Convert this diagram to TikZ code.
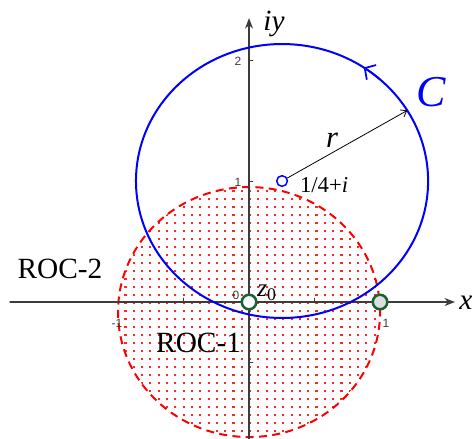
\documentclass[tikz,border=0pt]{standalone}
\usepackage{fontspec}
\setmainfont{Liberation Serif}
\setsansfont{Liberation Sans}
\usetikzlibrary{arrows.meta,calc}
\definecolor{pgreen}{RGB}{25,100,55}
\definecolor{axgray}{RGB}{60,60,60}
\begin{document}
\begin{tikzpicture}[x=98.25pt,y=90.75pt,line join=round,line cap=round,>=Stealth,
	ticklab/.style={font=\sffamily\fontsize{9}{9}\selectfont,text=axgray,inner sep=0pt},
	lab/.style={font=\fontsize{#1}{#1}\selectfont,inner sep=0pt},
	pole/.style={circle,draw=pgreen,line width=1.9pt,minimum size=10.9pt,inner sep=0pt},
	axis/.style={axgray,line width=1.1pt,->}]
				\useasboundingbox (-1.901,-1.132) rectangle (1.725,2.496);
				\coordinate (O) at (0,0);
				\coordinate (E) at (0,-0.083);
				\coordinate (Z) at (0.252,1);
				\coordinate (P) at (1,0);
				\coordinate (Q) at ($(Z)+(31:1.115 and 1.132)$);
				\coordinate (xL) at (-1.824,0);
				\coordinate (xR) at (1.573,0);
				\coordinate (yB) at (0,-1.132);
				\coordinate (yT) at (0,2.347);
				% dotted region
				\begin{scope}
					\clip (E) ellipse (1 and 1.033);
					\foreach \i in {-17,...,17}{\foreach \j in {-17,...,17}{\fill[red!85](\i*0.0634,\j*0.066-0.083) rectangle +(1.6pt,1.6pt);}}
				\end{scope}
				\draw[red,line width=1.5pt,line cap=butt,dash pattern=on 6pt off 4pt](E) ellipse (1 and 1.033);
				\draw[axis](xL)--(xR);
				\draw[axis](yB)--(yT);
				\foreach \t in {-0.5,0.5}{\draw[axgray,line width=0.6pt](\t,0)--++(0,3pt);}
				\foreach \t in {1,2}{\draw[axgray,line width=0.6pt](0,\t)--++(3pt,0);}
				\draw[axgray,line width=0.6pt](0,-0.5)--++(3pt,0);
				% contour C
				\draw[blue,line width=1.5pt](Z) ellipse (1.115 and 1.132);
				\draw[blue,line width=1.3pt,-{Straight Barb[length=6pt,width=13pt]}]($(Z)+(48:1.115 and 1.132)$) arc[start angle=48,end angle=56,x radius=1.115,y radius=1.132];
				\node[circle,draw=blue,fill=white,line width=1.1pt,minimum size=8pt,inner sep=0pt] (z) at (Z) {};
				\draw[line width=0.6pt,-{Straight Barb[length=4pt,width=6pt]}](z)--(Q);
				\node[pole,fill=white] (z0) at (O) {};
				\node[pole,fill=gray!25] (p1) at (P) {};
				% labels
				\node[lab=22] (lx) at (1.656,-0.008) {\textit{x}};
				\node[lab=22] (liy) at (0.191,2.298) {\textit{iy}};
				\node[lab=33,text=blue] (lC) at (1.389,1.736) {\textit{C}};
				\node[lab=23] (lr) at (0.634,1.339) {\textit{r}};
				\node[lab=17] (lz) at (0.573,0.967) {1/4+\textit{i}};
				\node[lab=19] (lz0) at (0.137,0.075) {\textit{z}\textsubscript{0}};
				\node[lab=22] (roc2) at (-1.443,0.277) {ROC-2};
				\node[lab=22] (roc1) at (-0.385,-0.335) {ROC-1};
				\node[ticklab] at (-0.099,0.058) {0};
				\node[ticklab] at (-1.008,-0.174) {-1};
				\node[ticklab] at (1.046,-0.174) {1};
				\node[ticklab] at (-0.084,0.992) {1};
				\node[ticklab] at (-0.084,1.990) {2};
			\end{tikzpicture}
\end{document}
